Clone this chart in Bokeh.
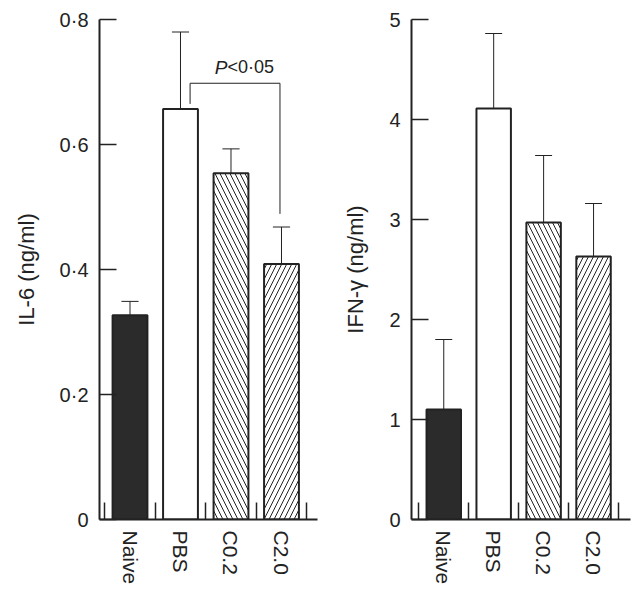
from bokeh.plotting import figure
from bokeh.layouts import row
from bokeh.models import Range1d, FixedTicker, ColumnDataSource
from bokeh.core.properties import value
from bokeh.embed import file_html
from bokeh.resources import INLINE

# ---- data ----
categories = ["Naive", "PBS", "C0.2", "C2.0"]
il6_mean = [0.327, 0.657, 0.554, 0.409]
il6_upper = [0.349, 0.780, 0.593, 0.468]
ifn_mean = [1.10, 4.11, 2.97, 2.63]
ifn_upper = [1.80, 4.86, 3.64, 3.16]
il6_ticks = [0, 0.2, 0.4, 0.6, 0.8]
il6_tick_labels = ["0", "0·2", "0·4", "0·6", "0·8"]
ifn_ticks = [0, 1, 2, 3, 4, 5]
ifn_tick_labels = ["0", "1", "2", "3", "4", "5"]
il6_label = "IL-6 (ng/ml)"
ifn_label = "IFN-γ (ng/ml)"
sig_from = "PBS"
sig_to = "C2.0"
sig_bracket_top = 0.698
sig_left_bottom = 0.665
sig_right_bottom = 0.489
sig_p = "P"
sig_rest = "<0·05"

# ---- styles ----
INK = "#222222"
FONT = "Liberation Sans"
bar_fill = ["#2b2b2b", "white", "white", "white"]
bar_hatch = [" ", " ", "\\", "/"]


def make_panel(means, uppers, y_end, ticks, tick_labels, ylabel,
               x_start, x_end, bl, fw, br, label_standoff):
    xs = list(range(1, len(categories) + 1))
    p = figure(x_range=Range1d(x_start, x_end), y_range=Range1d(0, y_end),
               frame_width=fw, frame_height=500,
               min_border_left=bl, min_border_right=br,
               min_border_top=19, min_border_bottom=71,
               output_backend="svg", toolbar_location=None)
    p.outline_line_color = None
    p.xgrid.visible = False
    p.ygrid.visible = False
    p.background_fill_color = "white"
    p.border_fill_color = "white"

    src = ColumnDataSource(dict(x=xs, top=means, upper=uppers,
                                fill=bar_fill, hatch=bar_hatch))
    p.vbar(x="x", top="top", bottom=0, width=0.69, source=src,
           fill_color="fill", line_color=INK, line_width=2,
           hatch_pattern="hatch", hatch_color=INK, hatch_scale=10,
           hatch_weight=1)
    # error bars (upper only)
    p.segment(x0="x", y0="top", x1="x", y1="upper", source=src,
              line_color=INK, line_width=1)
    cap = 0.17
    p.segment(x0=[x - cap for x in xs], y0=uppers,
              x1=[x + cap for x in xs], y1=uppers,
              line_color=INK, line_width=1)

    # y axis
    ya = p.yaxis[0]
    ya.ticker = FixedTicker(ticks=ticks)
    ya.major_label_overrides = {t: l for t, l in zip(ticks, tick_labels)}
    ya.major_tick_in = 17
    ya.major_tick_out = 0
    ya.minor_tick_in = 0
    ya.minor_tick_out = 0
    ya.axis_line_width = 2
    ya.axis_line_color = INK
    ya.major_tick_line_width = 1.5
    ya.major_tick_line_color = INK
    ya.major_label_standoff = 11
    ya.major_label_text_font = FONT
    ya.major_label_text_font_size = "20px"
    ya.major_label_text_color = INK
    ya.axis_label = ylabel
    ya.axis_label_text_font = FONT
    ya.axis_label_text_font_size = "22px"
    ya.axis_label_text_font_style = "normal"
    ya.axis_label_text_color = INK
    ya.axis_label_standoff = label_standoff

    # x axis
    xa = p.xaxis[0]
    minor = [x - 0.5 for x in xs] + [xs[-1] + 0.5]
    xa.ticker = FixedTicker(ticks=xs, minor_ticks=minor)
    xa.major_label_overrides = {x: c for x, c in zip(xs, categories)}
    xa.major_label_orientation = "vertical"
    xa.major_tick_in = 0
    xa.major_tick_out = 0
    xa.minor_tick_in = 17
    xa.minor_tick_out = 0
    xa.minor_tick_line_width = 1.5
    xa.minor_tick_line_color = INK
    xa.axis_line_width = 2
    xa.axis_line_color = INK
    xa.major_label_standoff = 11
    xa.major_label_text_font = FONT
    xa.major_label_text_font_size = "21px"
    xa.major_label_text_color = INK
    return p, xs


p1, xs1 = make_panel(il6_mean, il6_upper, 0.8, il6_ticks, il6_tick_labels,
                     il6_label, 0.396, 4.713, 99, 218, 11, 18)

# significance bracket
i0 = categories.index(sig_from) + 1
i1 = categories.index(sig_to) + 1
bx0 = i0 + 0.19
bx1 = i1 - 0.03
p1.line(x=[bx0, bx0, bx1, bx1],
        y=[sig_left_bottom, sig_bracket_top, sig_bracket_top, sig_right_bottom],
        line_color=INK, line_width=1)
tx = (bx0 + bx1) / 2 - 0.15
ty = sig_bracket_top + 0.026
p1.text(x=[tx], y=[ty], text=[sig_p], text_align="right",
        text_baseline="alphabetic", text_font=value(FONT),
        text_font_style="italic", text_font_size="19px", text_color=INK)
p1.text(x=[tx], y=[ty], text=[sig_rest], text_align="left",
        text_baseline="alphabetic", text_font=value(FONT),
        text_font_size="18px", text_color=INK)

p2, xs2 = make_panel(ifn_mean, ifn_upper, 5, ifn_ticks, ifn_tick_labels,
                     ifn_label, 0.354, 4.74, 83, 219, 1, 18)

layout = row(p1, p2)
open("out.html", "w").write(file_html(layout, INLINE))
